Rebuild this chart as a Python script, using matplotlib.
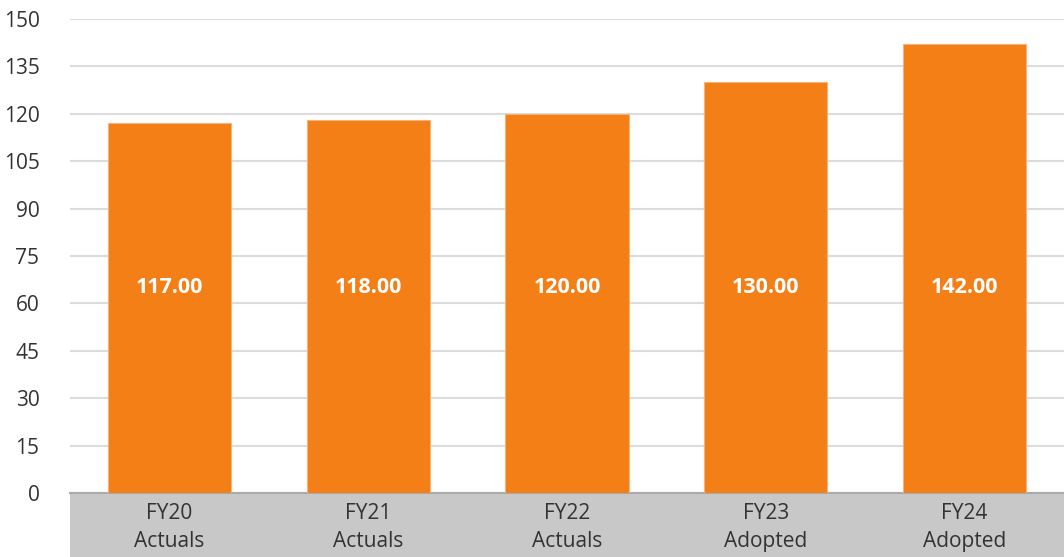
import matplotlib
matplotlib.use("Agg")
import matplotlib.pyplot as plt
from matplotlib.patches import Rectangle

categories = ["FY20\nActuals", "FY21\nActuals", "FY22\nActuals", "FY23\nAdopted", "FY24\nAdopted"]
values = [117.00, 118.00, 120.00, 130.00, 142.00]
yticks = [0, 15, 30, 45, 60, 75, 90, 105, 120, 135, 150]

plt.rcParams["font.family"] = ["Open Sans", "DejaVu Sans"]

W, H = 1064, 557
ax_bottom, ax_top = 493, 19   # pixel rows of y=0 and y=150
fig = plt.figure(figsize=(W / 100, H / 100), dpi=100)
ax = fig.add_axes([70 / W, (H - ax_bottom) / H, (W - 70) / W, (ax_bottom - ax_top) / H])

x = list(range(len(categories)))
bars = ax.bar(x, values, width=0.62, color="#F37F16", edgecolor="#F6B27A", linewidth=0.8, zorder=3)

for b, v in zip(bars, values):
    ax.text(b.get_x() + b.get_width() / 2, 65, f"{v:.2f}", ha="center", va="center",
            color="white", fontsize=15.5, fontweight="bold", zorder=4)

ax.set_xlim(-0.5, len(categories) - 0.5)
ax.set_ylim(0, 150)
ax.set_yticks(yticks)
ax.set_yticklabels([str(t) for t in yticks], fontsize=15, color="#333333")
ax.set_xticks(x)
ax.set_xticklabels(categories, fontsize=15, color="#333333", linespacing=1.45)
ax.tick_params(axis="y", length=0, pad=22)
ax.tick_params(axis="x", length=0, pad=7)
ax.grid(axis="y", color="#dcdcdc", linewidth=1.5, zorder=0)
for s in ax.spines.values():
    s.set_visible(False)

# gray category band below the plot
band_h = (H - ax_bottom) / (ax_bottom - ax_top)
band = Rectangle((0, -band_h), 1, band_h, transform=ax.transAxes,
                 facecolor="#c8c8c8", edgecolor="none", clip_on=False, zorder=1)
ax.add_patch(band)
ax.axhline(0, color="#aaaaaa", linewidth=1.5, zorder=2, clip_on=False)

fig.savefig("out.png", dpi=100)
